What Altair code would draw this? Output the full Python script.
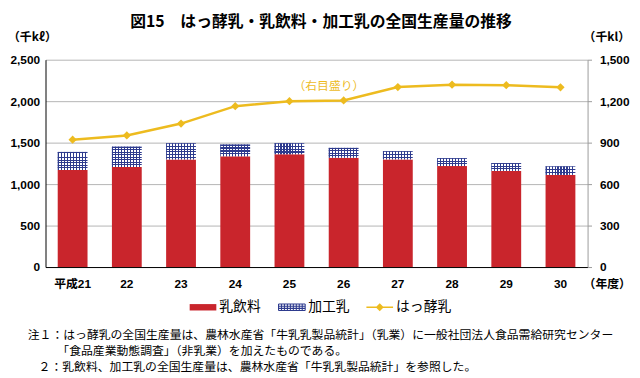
import altair as alt
import pandas as pd

# ---------------- data ----------------
years = ["平成21", "22", "23", "24", "25", "26", "27", "28", "29", "30"]
milk_drink = [1170, 1206, 1298, 1335, 1360, 1318, 1298, 1218, 1159, 1111]      # 乳飲料 (千kl, left)
processed_milk = [218, 246, 194, 143, 134, 119, 99, 95, 95, 103]              # 加工乳 (千kl, left, stacked)
fermented_milk = [921, 952, 1038, 1164, 1200, 1205, 1302, 1319, 1316, 1300]   # はっ酵乳 (千kl, right)

series_names = ["乳飲料", "加工乳", "はっ酵乳"]
left_ticks = [0, 500, 1000, 1500, 2000, 2500]
right_ticks = [0, 300, 600, 900, 1200, 1500]

title_text = "図15　はっ酵乳・乳飲料・加工乳の全国生産量の推移"
left_unit = "（千kℓ）"
right_unit = "（千kl）"
x_unit = "（年度）"
right_scale_note = "（右目盛り）"
notes = [
    "注１：はっ酵乳の全国生産量は、農林水産省「牛乳乳製品統計」（乳業）に一般社団法人食品需給研究センター",
    "「食品産業動態調査」（非乳業）を加えたものである。",
    "２：乳飲料、加工乳の全国生産量は、農林水産省「牛乳乳製品統計」を参照した。",
]

# ---------------- styles ----------------
RED = "#C9252C"
NAVY = "#2E3B8E"
GOLD = "#EDBB1F"
GRID = "#B4B4B4"
JP = "Noto Sans CJK JP"
NUM = "Liberation Sans, Noto Sans CJK JP"
W, H = 549, 210
LEFT_MAX, RIGHT_MAX = 2500, 1500

df = pd.DataFrame({
    "year": years,
    "drink": milk_drink,
    "processed": processed_milk,
    "ferment": fermented_milk,
})
df["total"] = df["drink"] + df["processed"]


def stripes(n, frac, on, off, vertical):
    stops = []
    for k in range(n):
        a = k / n
        b = (k + frac) / n
        c = (k + 1) / n
        stops += [
            {"offset": a, "color": on},
            {"offset": b, "color": on},
            {"offset": b, "color": off},
            {"offset": c, "color": off},
        ]
    g = {"gradient": "linear", "stops": stops, "x1": 0, "y1": 0}
    if vertical:
        g.update({"x2": 1, "y2": 0})
    else:
        g.update({"x2": 0, "y2": 1})
    return g


x_enc = alt.X(
    "year:N", sort=years, title=None,
    scale=alt.Scale(paddingInner=0.45, paddingOuter=0.225),
    axis=alt.Axis(labelAngle=0, ticks=False, domainColor="black", domainWidth=1,
                  labelFont=NUM, labelFontSize=12, labelFontWeight="bold",
                  labelColor="black", labelBaseline="middle", labelPadding=17),
)

left_scale = alt.Scale(domain=[0, LEFT_MAX], nice=False, zero=True)
left_axis = alt.Axis(values=left_ticks, format=",d", title=None, orient="left",
                     grid=True, gridColor=GRID, gridWidth=1, ticks=False,
                     domainColor="black", domainWidth=1, labelPadding=6,
                     labelFont=NUM, labelFontSize=12, labelFontWeight="bold",
                     labelColor="black")
right_scale = alt.Scale(domain=[0, RIGHT_MAX], nice=False, zero=True)
right_axis = alt.Axis(values=right_ticks, format=",d", title=None, orient="right",
                      grid=False, ticks=True, tickSize=4, tickColor="#9A9A9A",
                      domainColor="#9A9A9A", domainWidth=1, labelPadding=8,
                      labelFont=NUM, labelFontSize=12, labelFontWeight="bold",
                      labelColor="black")

base = alt.Chart(df)

red_bars = base.mark_bar(color=RED).encode(
    x=x_enc,
    y=alt.Y("drink:Q", scale=left_scale, axis=left_axis),
)

hatch_base = base.mark_bar(fill=stripes(10, 0.36, NAVY, "#FFFFFF", True)).encode(
    x=x_enc,
    y=alt.Y("total:Q", scale=left_scale, axis=left_axis),
    y2="drink:Q",
)

hatch_rows = []
for yr, p in zip(years, processed_milk):
    h_px = p * H / LEFT_MAX
    n = max(2, round(h_px / 2.7))
    hatch_rows.append(
        base.transform_filter(alt.datum.year == yr)
        .mark_bar(fill=stripes(n, 0.38, NAVY, "rgba(255,255,255,0)", False))
        .encode(
            x=x_enc,
            y=alt.Y("total:Q", scale=left_scale, axis=left_axis),
            y2="drink:Q",
        )
    )

left_layer = alt.layer(red_bars, hatch_base, *hatch_rows)

line = base.mark_line(color=GOLD, strokeWidth=2.5).encode(
    x=x_enc,
    y=alt.Y("ferment:Q", scale=right_scale, axis=right_axis),
)
pts = base.mark_point(shape="diamond", filled=True, size=70, color=GOLD, opacity=1).encode(
    x=x_enc,
    y=alt.Y("ferment:Q", scale=right_scale, axis=right_axis),
)
right_layer = alt.layer(line, pts)

# ---------------- legend (symbols from custom paths) ----------------
def rect(x0, y0, x1, y1):
    return f"M{x0:.3f},{y0:.3f}H{x1:.3f}V{y1:.3f}H{x0:.3f}Z"

sym_red = rect(-1, -0.24, 1, 0.24)
grid_parts = []
for i in range(10):
    xx = -1 + i * 2 / 9
    grid_parts.append(rect(xx - 0.04, -0.24, xx + 0.04, 0.24))
for yy in (-0.24, -0.08, 0.08, 0.24):
    grid_parts.append(rect(-1, yy - 0.04, 1, yy + 0.04))
sym_hatch = " ".join(grid_parts)
sym_line = rect(-1, -0.06, 1, 0.06) + " M0,-0.3L0.3,0L0,0.3L-0.3,0Z"

legend_def = alt.Legend(
    title=None, orient="none", legendX=146, legendY=237, direction="horizontal",
    symbolSize=729, symbolStrokeWidth=0, labelFont=JP, labelFontSize=14,
    labelColor="black", labelOffset=3, columnPadding=17, labelLimit=0,
)
legend_layer = alt.Chart(pd.DataFrame({"series": series_names})).mark_point(
    filled=True, opacity=1, size=729
).encode(
    x=alt.value(-3000),
    y=alt.value(-3000),
    color=alt.Color("series:N", sort=series_names,
                    scale=alt.Scale(domain=series_names, range=[RED, NAVY, GOLD]),
                    legend=legend_def),
    shape=alt.Shape("series:N", sort=series_names,
                    scale=alt.Scale(domain=series_names, range=[sym_red, sym_hatch, sym_line]),
                    legend=legend_def),
)

# ---------------- texts ----------------
def txt(s, x, y, size=12, weight="normal", color="black", align="left", font=JP):
    return alt.Chart(pd.DataFrame({"t": [s]})).mark_text(
        align=align, baseline="middle", fontSize=size, fontWeight=weight,
        color=color, font=font,
    ).encode(text="t:N", x=alt.value(x), y=alt.value(y))

texts = [
    txt(title_text, 279, -38, size=16, weight="bold", align="center"),
    txt(left_unit, -38, -23, size=12, weight="bold"),
    txt(right_unit, 545, -23, size=12, weight="bold"),
    txt(x_unit, 545, 227, size=12, weight="bold"),
    txt(right_scale_note, 287, 27, size=12, color=GOLD, align="center"),
    txt(notes[0], -18, 279),
    txt(notes[1], 12, 295),
    txt(notes[2], -7, 311),
]

chart = alt.layer(left_layer, right_layer, legend_layer, *texts).resolve_scale(
    y="independent"
).properties(
    width=W, height=H,
    padding={"left": 38, "top": 50, "right": 45, "bottom": 110},
    autosize=alt.AutoSizeParams(type="none"),
).configure_view(stroke=None)

chart.save("out.html", embed_options={"renderer": "svg", "actions": False})
